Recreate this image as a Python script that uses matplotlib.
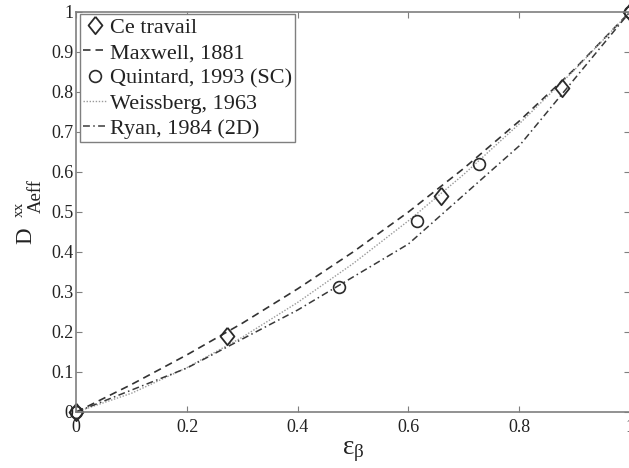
import matplotlib
matplotlib.use("Agg")
import matplotlib.pyplot as plt

plt.rcParams['font.family'] = ['Liberation Serif', 'DejaVu Serif']
plt.rcParams['mathtext.fontset'] = 'custom'
plt.rcParams['mathtext.rm'] = 'Liberation Serif'
plt.rcParams['mathtext.it'] = 'Liberation Serif:italic'
plt.rcParams['mathtext.bf'] = 'Liberation Serif:bold'

# ---- data ----
ce_x = [0.0, 0.272, 0.658, 0.877, 1.0]
ce_y = [0.0, 0.191, 0.541, 0.809, 1.0]

quint_x = [0.0, 0.474, 0.615, 0.728, 1.0]
quint_y = [0.0, 0.313, 0.477, 0.619, 1.0]

maxwell_x = [0.0, 0.1, 0.2, 0.3, 0.4, 0.5, 0.6, 0.7, 0.8, 0.9, 1.0]
maxwell_y = [0.0, 0.069, 0.143, 0.222, 0.308, 0.40, 0.50, 0.609, 0.727, 0.857, 1.0]

weiss_x = [0.0, 0.1, 0.2, 0.3, 0.4, 0.5, 0.6, 0.7, 0.8, 0.9, 1.0]
weiss_y = [0.0, 0.047, 0.111, 0.187, 0.274, 0.371, 0.478, 0.594, 0.72, 0.855, 1.0]

ryan_x = [0.0, 0.2, 0.4, 0.6, 0.8, 1.0]
ryan_y = [0.0, 0.11, 0.255, 0.42, 0.665, 1.0]

xticks = [0, 0.2, 0.4, 0.6, 0.8, 1]
xticklabels = ['0', '0.2', '0.4', '0.6', '0.8', '1']
yticks = [0, 0.1, 0.2, 0.3, 0.4, 0.5, 0.6, 0.7, 0.8, 0.9, 1]
yticklabels = ['0', '0.1', '0.2', '0.3', '0.4', '0.5', '0.6', '0.7', '0.8', '0.9', '1']

labels = ['Ce travail', 'Maxwell, 1881', 'Quintard, 1993 (SC)',
          'Weissberg, 1963', 'Ryan, 1984 (2D)']

W, H = 629, 468
fig = plt.figure(figsize=(W / 100, H / 100), dpi=100)
ax = fig.add_axes([76.3 / W, 56 / H, 553.5 / W, 400 / H])

diamond = [(0, 1), (0.8, 0), (0, -1), (-0.8, 0), (0, 1)]
dark = '#2a2a2a'
gray_axis = '#7f7f7f'
txt = '#222222'

l_max, = ax.plot(maxwell_x, maxwell_y, color='#333333', lw=1.2,
                 linestyle=(0, (4.5, 3.0)), clip_on=False)
l_wei, = ax.plot(weiss_x, weiss_y, color='#9a9a9a', lw=1.0,
                 linestyle=(0, (1.0, 1.2)), clip_on=False)
l_rya, = ax.plot(ryan_x, ryan_y, color='#3a3a3a', lw=1.1,
                 linestyle=(0, (4.5, 2.2, 1.0, 2.2)), clip_on=False)
l_ce, = ax.plot(ce_x, ce_y, linestyle='none', marker=diamond, ms=12.5,
                mfc='none', mec=dark, mew=1.3, clip_on=False)
l_qu, = ax.plot(quint_x, quint_y, linestyle='none', marker='o', ms=8.5,
                mfc='none', mec=dark, mew=1.2, clip_on=False)

ax.set_xlim(0, 1)
ax.set_ylim(0, 1)
ax.set_xticks(xticks)
ax.set_xticklabels(xticklabels)
ax.set_yticks(yticks)
ax.set_yticklabels(yticklabels)

ax.tick_params(axis='both', direction='in', length=4.5, width=0.8,
               color=gray_axis, labelsize=13, labelcolor=txt,
               top=True, right=True)
ax.tick_params(axis='x', pad=5)
ax.tick_params(axis='y', pad=2)
for s in ax.spines.values():
    s.set_color(gray_axis)
    s.set_linewidth(1.2)

ax.set_xlabel(r'$\mathrm{\varepsilon}_{\mathrm{\beta}}$', fontsize=19.5,
              labelpad=2, color=txt)

# y label: D with stacked superscript "xx" and subscript "Aeff" (rotated)
fig.text(25.5 / W, 1 - 236 / H, 'D', rotation=90, fontsize=16.5,
         ha='center', va='center', color=txt)
fig.text(19.5 / W, 1 - 209.5 / H, 'xx', rotation=90, fontsize=11,
         ha='center', va='center', color=txt)
fig.text(36.5 / W, 1 - 195.5 / H, 'Aeff', rotation=90, fontsize=13.5,
         ha='center', va='center', color=txt)

leg = ax.legend([l_ce, l_max, l_qu, l_wei, l_rya], labels,
                loc='upper left', bbox_to_anchor=(0.006, 0.995),
                borderaxespad=0, fontsize=16, handlelength=1.05,
                handletextpad=0.15, borderpad=0.15, labelspacing=0.21,
                fancybox=False, framealpha=1, edgecolor=gray_axis,
                labelcolor=txt)
leg.get_frame().set_linewidth(1.0)

fig.savefig('out.png', dpi=100)
